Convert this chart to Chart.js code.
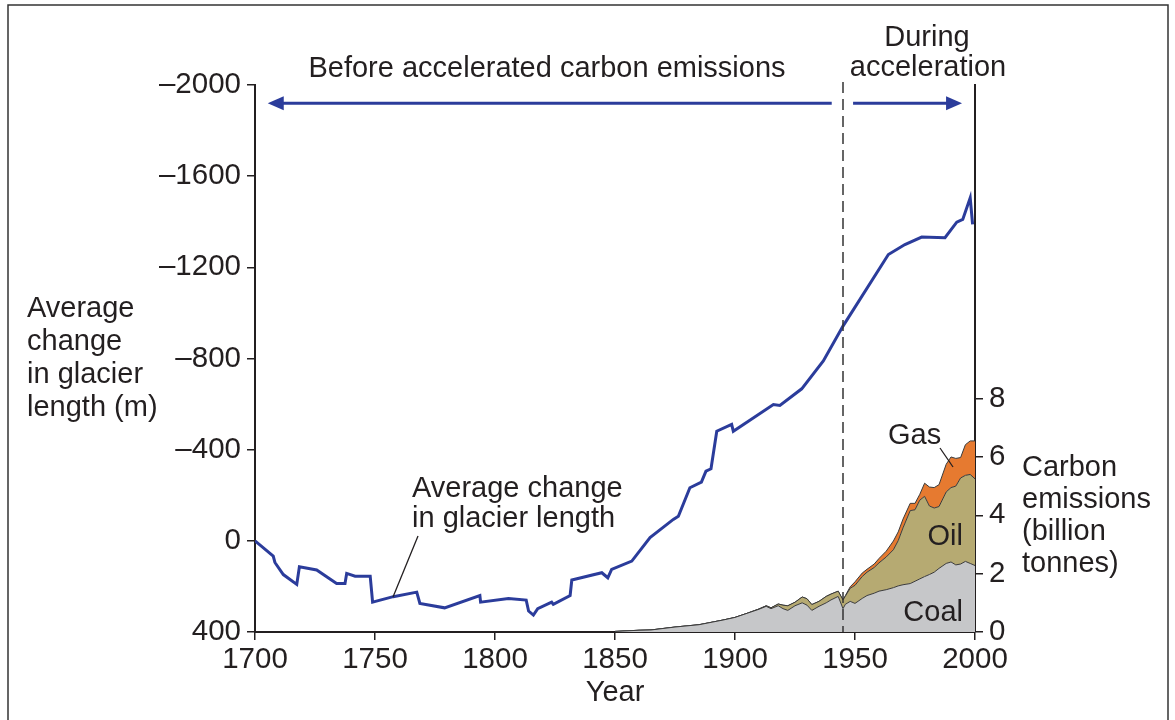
<!DOCTYPE html>
<html>
<head>
<meta charset="utf-8">
<script src="https://cdn.jsdelivr.net/npm/chart.js@4.4.1/dist/chart.umd.min.js"></script>
<style>
  html, body { margin: 0; padding: 0; background: #fff; }
  #wrap { width: 1175px; height: 720px; }
</style>
</head>
<body>
<div id="wrap"><canvas id="c" width="1175" height="720"></canvas></div>
<script>
// ---- data ----
const glacierYears = [1700, 1707.6, 1708.3, 1711.8, 1717.4, 1718.5, 1725.7, 1734, 1737.5, 1738.2,
  1741.7, 1748, 1749, 1757.6, 1767.4, 1768.7, 1779, 1793.7, 1794, 1805.6,
  1813, 1814, 1816, 1817.8, 1823.6, 1824.3, 1831.3, 1832, 1844.5, 1847,
  1848.6, 1857, 1864.6, 1874.3, 1876.4, 1881.2, 1886, 1887.9, 1890, 1892.4,
  1898.6, 1899.3, 1916, 1918.7, 1927.8, 1936.8, 1945, 1963.9, 1970.8, 1977.8,
  1987.5, 1992.4, 1994.9, 1998, 1999];
const glacierChange = [0, 67, 95, 148, 191, 114, 128, 187, 187, 143,
  155, 155, 269, 245, 225, 275, 294, 240, 269, 253,
  260, 308, 326, 298, 269, 279, 240, 172, 140, 162,
  125, 89, -14, -94, -108, -233, -258, -306, -316, -481,
  -511, -481, -598, -594, -667, -789, -942, -1256, -1300, -1333,
  -1330, -1398, -1410, -1505, -1388];

const emissionYears = [1850, 1855, 1860, 1865, 1870, 1875, 1880, 1885, 1890, 1895,
  1900, 1905, 1910, 1913, 1915, 1918, 1920, 1922, 1925, 1928,
  1930, 1932, 1935, 1938, 1940, 1943, 1945, 1946, 1948, 1950,
  1953, 1955, 1958, 1960, 1963, 1966, 1968, 1970, 1973, 1975,
  1977, 1979, 1981, 1983, 1985, 1988, 1990, 1992, 1994, 1996,
  1998, 2000];
const coal = [0.02, 0.04, 0.06, 0.07, 0.12, 0.17, 0.21, 0.25, 0.33, 0.41,
  0.5, 0.64, 0.78, 0.88, 0.8, 0.9, 0.8, 0.74, 0.9, 1.0,
  0.92, 0.74, 0.88, 1.0, 1.1, 1.22, 0.8, 0.95, 1.05, 0.98,
  1.15, 1.25, 1.33, 1.4, 1.45, 1.52, 1.58, 1.62, 1.66, 1.74,
  1.82, 1.9, 1.97, 2.05, 2.18, 2.35, 2.4, 2.3, 2.33, 2.42,
  2.35, 2.28];
const oil = [0, 0, 0, 0, 0, 0, 0, 0, 0, 0,
  0, 0, 0.01, 0.02, 0.03, 0.06, 0.12, 0.16, 0.12, 0.2,
  0.22, 0.2, 0.17, 0.22, 0.2, 0.18, 0.3, 0.28, 0.45, 0.62,
  0.75, 0.8, 0.88, 0.97, 1.12, 1.3, 1.55, 1.95, 2.5, 2.45,
  2.7, 2.75, 2.35, 2.2, 2.12, 2.45, 2.55, 2.7, 2.95, 2.95,
  3.05, 2.97];
const gas = [0, 0, 0, 0, 0, 0, 0, 0, 0, 0,
  0, 0, 0, 0, 0, 0, 0, 0, 0, 0,
  0, 0, 0, 0, 0, 0, 0, 0.02, 0.05, 0.12,
  0.12, 0.1, 0.12, 0.15, 0.2, 0.3, 0.3, 0.3, 0.25, 0.22,
  0.2, 0.45, 0.65, 0.7, 0.75, 0.95, 1.05, 0.95, 0.7, 1.05,
  1.15, 1.3];

const yearTicks = [1700, 1750, 1800, 1850, 1900, 1950, 2000];
const glacierTicks = [-2000, -1600, -1200, -800, -400, 0, 400];
const emissionTicks = [0, 2, 4, 6, 8];

// ---- look ----
const INK = '#231f20';
const FONT = '"Liberation Sans", Arial, Helvetica, sans-serif';
const FS = 29;
const TFS = 29.5;
const BLUE = '#2b3c9b';

const pts = (xs, ys) => xs.map((x, i) => ({ x, y: ys[i] }));
const dash = '\u2013';

function axisBase(ticks) {
  return {
    border: { display: true, color: INK, width: 2 },
    grid: { drawOnChartArea: false, drawTicks: true, tickLength: 8, color: INK, lineWidth: 1.5 },
    afterBuildTicks: s => { s.ticks = ticks.map(v => ({ value: v })); }
  };
}

const annotate = {
  id: 'annotate',
  afterDatasetsDraw(chart) {
    const { ctx, scales } = chart;
    const x = scales.x, y = scales.y;
    ctx.save();

    // 1945 divider
    const xd = x.getPixelForValue(1945);
    ctx.strokeStyle = '#333';
    ctx.lineWidth = 1.5;
    ctx.setLineDash([11, 6]);
    ctx.beginPath(); ctx.moveTo(xd, 82); ctx.lineTo(xd, y.bottom); ctx.stroke();
    ctx.setLineDash([]);

    // period arrows
    const ya = y.getPixelForValue(-1920);
    const arrow = (x0, x1, left, right) => {
      ctx.strokeStyle = BLUE; ctx.fillStyle = BLUE; ctx.lineWidth = 3;
      ctx.beginPath(); ctx.moveTo(x0 + (left ? 12 : 0), ya); ctx.lineTo(x1 - (right ? 12 : 0), ya); ctx.stroke();
      if (left) { ctx.beginPath(); ctx.moveTo(x0, ya); ctx.lineTo(x0 + 16, ya - 7); ctx.lineTo(x0 + 16, ya + 7); ctx.closePath(); ctx.fill(); }
      if (right) { ctx.beginPath(); ctx.moveTo(x1, ya); ctx.lineTo(x1 - 16, ya - 7); ctx.lineTo(x1 - 16, ya + 7); ctx.closePath(); ctx.fill(); }
    };
    arrow(x.getPixelForValue(1705.3), x.getPixelForValue(1940.3), true, false);
    arrow(x.getPixelForValue(1949.2), x.getPixelForValue(1994.6), false, true);

    // texts
    ctx.fillStyle = INK;
    ctx.font = FS + 'px ' + FONT;
    ctx.textBaseline = 'alphabetic';
    ctx.textAlign = 'center';
    ctx.fillText('Before accelerated carbon emissions', 547, 77);
    ctx.fillText('During', 927, 46);
    ctx.fillText('acceleration', 928, 76);
    ctx.fillText('Year', 615, 701);

    ctx.textAlign = 'left';
    ['Average', 'change', 'in glacier', 'length (m)'].forEach((t, i) => ctx.fillText(t, 27, 317 + i * 33));
    ['Carbon', 'emissions', '(billion', 'tonnes)'].forEach((t, i) => ctx.fillText(t, 1022, 476 + i * 32));
    ctx.fillText('Average change', 412, 497);
    ctx.fillText('in glacier length', 412, 527);
    ctx.fillText('Gas', 888, 444);
    ctx.textAlign = 'right';
    ctx.fillText('Oil', 963, 545);
    ctx.fillText('Coal', 963, 621);

    // leader lines
    ctx.strokeStyle = INK; ctx.lineWidth = 1.3;
    ctx.beginPath(); ctx.moveTo(418, 536); ctx.lineTo(393, 597); ctx.stroke();
    ctx.beginPath(); ctx.moveTo(940, 448); ctx.lineTo(953, 467); ctx.stroke();

    // outer frame
    ctx.strokeStyle = '#333'; ctx.lineWidth = 1.5;
    ctx.beginPath(); ctx.moveTo(8, 722); ctx.lineTo(8, 5); ctx.lineTo(1168, 5); ctx.lineTo(1168, 722); ctx.stroke();
    ctx.restore();
  }
};

new Chart(document.getElementById('c'), {
  type: 'line',
  data: {
    datasets: [
      { label: 'Average change in glacier length', data: pts(glacierYears, glacierChange), yAxisID: 'y',
        borderColor: BLUE, borderWidth: 3, pointRadius: 0, fill: false, tension: 0, order: 0 },
      { label: 'Coal', data: pts(emissionYears, coal), yAxisID: 'y2', borderColor: '#3a3a3a', borderWidth: 1,
        backgroundColor: '#c6c7c9', pointRadius: 0, fill: 'origin', order: 1 },
      { label: 'Oil', data: pts(emissionYears, oil), yAxisID: 'y2', borderColor: '#3a3a3a', borderWidth: 1,
        backgroundColor: '#b6aa72', pointRadius: 0, fill: '-1', order: 1 },
      { label: 'Gas', data: pts(emissionYears, gas), yAxisID: 'y2', borderColor: '#3a3a3a', borderWidth: 1,
        backgroundColor: '#e67a30', pointRadius: 0, fill: '-1', order: 1 }
    ]
  },
  options: {
    responsive: false,
    animation: false,
    devicePixelRatio: 1,
    layout: { padding: { top: 85, left: 0, right: 0, bottom: 0 } },
    plugins: { legend: { display: false }, tooltip: { enabled: false } },
    scales: {
      x: Object.assign(axisBase(yearTicks), {
        type: 'linear', min: 1700, max: 2000,
        ticks: { color: INK, font: { family: FONT, size: TFS }, padding: 2, maxRotation: 0, callback: v => String(v) },
        afterFit: s => { s.height = 88; }
      }),
      y: Object.assign(axisBase(glacierTicks), {
        type: 'linear', position: 'left', reverse: true, min: -2000, max: 400,
        ticks: { color: INK, font: { family: FONT, size: TFS }, padding: 6,
          callback: v => v < 0 ? dash + Math.abs(v) : String(v) },
        afterFit: s => { s.width = 255; }
      }),
      y2: Object.assign(axisBase(emissionTicks), {
        type: 'linear', position: 'right', min: 0, max: 18.75, stacked: true,
        ticks: { color: INK, font: { family: FONT, size: TFS }, padding: 6 },
        afterFit: s => { s.width = 200; }
      })
    }
  },
  plugins: [annotate]
});
</script>
</body>
</html>
